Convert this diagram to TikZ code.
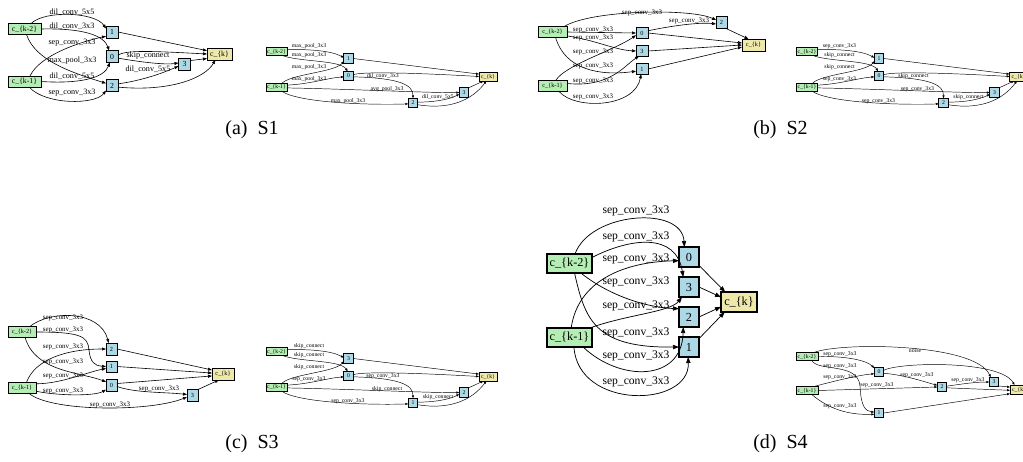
\documentclass[tikz,border=0pt]{standalone}
\usepackage{fontspec}
\setmainfont{Liberation Serif}
\usetikzlibrary{arrows.meta}
\definecolor{ingreen}{HTML}{B4EEB4}
\definecolor{hidblue}{HTML}{ADD8E6}
\definecolor{outyel}{HTML}{EEE8AA}
\tikzset{
  sz/.style 2 args={minimum width=#1*0.75pt, minimum height=#2*0.75pt},
  gnode/.style={draw=black, inner sep=0pt, outer sep=0pt},
  inp/.style={gnode, fill=ingreen},
  hid/.style={gnode, fill=hidblue},
  outp/.style={gnode, fill=outyel},
  fD/.style={line width=0.8pt, font=\fontsize{9.2}{10}\selectfont},
  fM/.style={line width=0.6pt, font=\fontsize{5.8}{6}\selectfont},
  fB/.style={line width=0.55pt, font=\fontsize{4.7}{5}\selectfont},
  fS/.style={line width=0.45pt, font=\fontsize{4.3}{5}\selectfont},
  eD/.style={line width=0.55pt, -{Triangle[length=4.5pt,width=3.2pt]}},
  eM/.style={line width=0.45pt, -{Triangle[length=3pt,width=2.2pt]}},
  eS/.style={line width=0.35pt, -{Triangle[length=2.2pt,width=1.6pt]}},
  lD/.style={inner sep=0pt, font=\fontsize{8.7}{9}\selectfont},
  lM/.style={inner sep=0pt, font=\fontsize{6.1}{7}\selectfont},
  lB/.style={inner sep=0pt, font=\fontsize{5.2}{6}\selectfont},
  lS/.style={inner sep=0pt, font=\fontsize{4.3}{5}\selectfont},
  capt/.style={inner sep=0pt, anchor=base, font=\fontsize{15}{18}\selectfont},
}
% small cell: #1 shift, #2 prefix, #3 top, #4 middle, #5 right, #6 bottom
\newcommand{\cellR}[6]{%
\begin{scope}[shift={#1}]
\node[inp,sz={21}{8},fS] (#2A) at (276.5,51.5) {c\_\{k-2\}};
\node[inp,sz={21}{8},fS] (#2B) at (276.5,87) {c\_\{k-1\}};
\node[hid,sz={9.5}{9.5},fS] (#2t) at (348.5,58.5) {#3};
\node[hid,sz={9.5}{9.5},fS] (#2m) at (348.5,76) {#4};
\node[hid,sz={9.5}{9.5},fS] (#2r) at (464,92.5) {#5};
\node[hid,sz={9.5}{9.5},fS] (#2b) at (413,103) {#6};
\node[outp,sz={18}{9},fS] (#2K) at (488,76.5) {c\_\{k\}};
\draw[eS] (#2A.10) .. controls (310,49) and (332,51) .. (#2t.170);
\draw[eS] (#2A.-35) .. controls (300,62) and (340,60) .. (#2m.100);
\draw[eS] (#2B.35) .. controls (292,74) and (335,72) .. (#2t.210);
\draw[eS] (#2B.10) .. controls (310,84) and (328,78) .. (#2m.190);
\draw[eS] (#2B.-5) .. controls (350,89) and (430,93) .. (#2r.west);
\draw[eS] (#2B.-40) .. controls (300,104) and (380,105) .. (#2b.190);
\draw[eS] (#2m.-10) .. controls (400,78) and (413,85) .. (#2b.north);
\draw[eS] (#2b.10) .. controls (440,102) and (452,98) .. (#2r.200);
\draw[eS] (#2t.east) -- (#2K.165);
\draw[eS] (#2m.15) .. controls (360,72) and (400,72) .. (#2K.west);
\draw[eS] (#2r.45) -- (#2K.225);
\draw[eS] (#2b.-20) .. controls (450,110) and (472,100) .. (#2K.250);
\node[lS] (#2l1) at (309,46) {\LA};
\node[lS] (#2l2) at (309,55) {\LB};
\node[lS] (#2l3) at (309,67) {\LC};
\node[lS] (#2l4) at (309,79) {\LD};
\node[lS] (#2l5) at (387,89) {\LE};
\node[lS] (#2l6) at (348,101) {\LF};
\node[lS] (#2l7) at (383,76) {\LG};
\node[lS] (#2l8) at (438,97) {\LH};
\end{scope}}
\begin{document}
\begin{tikzpicture}[x=0.75pt,y=-0.75pt]
\useasboundingbox (0,0) rectangle (1023,461);
\fill[white] (0,0) rectangle (1023,461);

% ---------------- Panel (a) left
\node[inp,sz={33}{11},fM] (aA) at (24.5,29) {c\_\{k-2\}};
\node[inp,sz={33}{11},fM] (aB) at (24.5,81.5) {c\_\{k-1\}};
\node[hid,sz={12}{12},fM] (a1) at (112,32) {1};
\node[hid,sz={12}{12},fM] (a0) at (112,56.5) {0};
\node[hid,sz={12}{12},fM] (a2) at (112,85.5) {2};
\node[hid,sz={12}{12},fM] (a3) at (184.5,64) {3};
\node[outp,sz={25}{12},fM] (aK) at (219.5,54) {c\_\{k\}};
\draw[eM] (aA.40) .. controls (45,10) and (95,12) .. (a1.150);
\draw[eM] (aA.east) .. controls (85,28) and (104,36) .. (a0.115);
\draw[eM] (aB.45) .. controls (40,55) and (80,42) .. (a1.215);
\draw[eM] (aA.-70) .. controls (35,60) and (70,72) .. (a2.160);
\draw[eM] (aB.east) .. controls (80,84) and (104,78) .. (a0.250);
\draw[eM] (aB.-50) .. controls (45,105) and (95,105) .. (a2.220);
\draw[eM] (a0.-15) .. controls (140,62) and (165,65) .. (a3.170);
\draw[eM] (a2.15) .. controls (145,80) and (165,72) .. (a3.200);
\draw[eM] (a1.east) -- (aK.165);
\draw[eM] (a0.15) .. controls (128,50) and (150,51) .. (aK.180);
\draw[eM] (a3.30) -- (aK.200);
\draw[eM] (a2.-15) .. controls (170,92) and (205,78) .. (aK.235);
\node[lM] (la1) at (72,12) {dil\_conv\_5x5};
\node[lM] (la2) at (72,26) {dil\_conv\_3x3};
\node[lM] (la3) at (72,43) {sep\_conv\_3x3};
\node[lM] (la4) at (72,61) {max\_pool\_3x3};
\node[lM] (la5) at (72,76) {dil\_conv\_5x5};
\node[lM] (la6) at (72,93) {sep\_conv\_3x3};
\node[lM] (la7) at (148,56) {skip\_connect};
\node[lM] (la8) at (148,69) {dil\_conv\_5x5};

% ---------------- Panel (a) right
\def\LA{max\_pool\_3x3}\def\LB{max\_pool\_3x3}\def\LC{max\_pool\_3x3}\def\LD{max\_pool\_3x3}
\def\LE{avg\_pool\_3x3}\def\LF{max\_pool\_3x3}\def\LG{dil\_conv\_3x3}\def\LH{dil\_conv\_5x5}
\cellR{(0,0)}{r}{1}{0}{3}{2}

% ---------------- Panel (b) left
\node[inp,sz={29}{10.5},fB] (bA) at (552.5,32) {c\_\{k-2\}};
\node[inp,sz={29}{11},fB] (bB) at (552.5,86) {c\_\{k-1\}};
\node[hid,sz={12}{10.5},fB] (b0) at (642,33) {0};
\node[hid,sz={12}{10.5},fB] (b3) at (642,51) {3};
\node[hid,sz={12}{10.5},fB] (b1) at (642,69) {1};
\node[hid,sz={11}{12},fB] (b2) at (721.5,22) {2};
\node[outp,sz={23}{12},fB] (bK) at (753.5,45) {c\_\{k\}};
\draw[eM] (bA.25) .. controls (590,10) and (690,8) .. (b2.160);
\draw[eM] (b0.20) .. controls (670,26) and (700,22) .. (b2.200);
\draw[eM] (bA.east) -- (b0.west);
\draw[eM] (bA.-15) .. controls (595,40) and (615,50) .. (b3.west);
\draw[eM] (bB.60) .. controls (565,65) and (615,50) .. (b0.200);
\draw[eM] (bA.-60) .. controls (565,70) and (600,76) .. (b1.200);
\draw[eM] (bB.10) .. controls (610,88) and (625,65) .. (b3.240);
\draw[eM] (bB.-40) .. controls (575,110) and (635,108) .. (b1.260);
\draw[eM] (b0.east) -- (bK.170);
\draw[eM] (b3.east) -- (bK.west);
\draw[eM] (b1.east) -- (bK.190);
\draw[eM] (b2.-60) -- (bK.130);
\node[lB] (lb1) at (642,13) {sep\_conv\_3x3};
\node[lB] (lb2) at (689,21) {sep\_conv\_3x3};
\node[lB] (lb3) at (593,29.5) {sep\_conv\_3x3};
\node[lB] (lb4) at (593,37.5) {sep\_conv\_3x3};
\node[lB] (lb5) at (593,52) {sep\_conv\_3x3};
\node[lB] (lb6) at (593,66) {sep\_conv\_3x3};
\node[lB] (lb7) at (593,81) {sep\_conv\_3x3};
\node[lB] (lb8) at (593,97) {sep\_conv\_3x3};

% ---------------- Panel (b) right
\def\LA{sep\_conv\_3x3}\def\LB{skip\_connect}\def\LC{skip\_connect}\def\LD{sep\_conv\_3x3}
\def\LE{sep\_conv\_3x3}\def\LF{sep\_conv\_3x3}\def\LG{skip\_connect}\def\LH{skip\_connect}
\cellR{(530.5,0)}{s}{1}{0}{3}{2}

% ---------------- Panel (c) left
\node[inp,sz={28}{10.5},fB] (cA) at (22,332) {c\_\{k-2\}};
\node[inp,sz={28}{11},fB] (cB) at (22,387.5) {c\_\{k-1\}};
\node[hid,sz={11}{12},fB] (c2) at (111.5,349) {2};
\node[hid,sz={11}{11},fB] (c1) at (111.5,366.5) {1};
\node[hid,sz={11}{12},fB] (c0) at (111.5,385) {0};
\node[hid,sz={11}{12},fB] (c3) at (192.5,395) {3};
\node[outp,sz={22}{12},fB] (cK) at (223,374) {c\_\{k\}};
\coordinate (cbend) at (89,350);
\draw[eM] (cA.35) .. controls (50,310) and (100,310) .. (c2.115);
\draw[eM] (cA.east) .. controls (80,332) and (88,336) .. (cbend) .. controls (90,362) and (95,366) .. (c1.west);
\draw[eM] (cB.50) .. controls (35,360) and (65,349) .. (c2.west);
\draw[eM] (cA.-60) .. controls (35,372) and (80,372) .. (c0.150);
\draw[eM] (cB.15) .. controls (60,384) and (88,372) .. (c1.200);
\draw[eM] (cB.-15) .. controls (60,396) and (95,396) .. (c0.220);
\draw[eM] (cB.-40) .. controls (50,412) and (150,412) .. (c3.200);
\draw[eM] (c0.-15) .. controls (135,393) and (165,392) .. (c3.175);
\draw[eM] (c2.east) -- (cK.160);
\draw[eM] (c1.east) -- (cK.175);
\draw[eM] (c0.15) -- (cK.190);
\draw[eM] (c3.45) -- (cK.235);
\node[lB] (lc1) at (63,318) {sep\_conv\_3x3};
\node[lB] (lc2) at (63,330) {sep\_conv\_3x3};
\node[lB] (lc3) at (63,347) {sep\_conv\_3x3};
\node[lB] (lc4) at (63,362) {sep\_conv\_3x3};
\node[lB] (lc5) at (63,376) {sep\_conv\_3x3};
\node[lB] (lc6) at (63,391) {sep\_conv\_3x3};
\node[lB] (lc7) at (110,405) {sep\_conv\_3x3};
\node[lB] (lc8) at (159,389) {sep\_conv\_3x3};

% ---------------- Panel (c) right
\def\LA{skip\_connect}\def\LB{skip\_connect}\def\LC{skip\_connect}\def\LD{sep\_conv\_3x3}
\def\LE{skip\_connect}\def\LF{sep\_conv\_3x3}\def\LG{sep\_conv\_3x3}\def\LH{skip\_connect}
\cellR{(0,300)}{u}{3}{0}{2}{1}

% ---------------- Panel (d) left (large)
\node[inp,sz={45}{19},fD] (dA) at (569.5,263.5) {c\_\{k-2\}};
\node[inp,sz={45}{19},fD] (dB) at (569.5,337.5) {c\_\{k-1\}};
\node[hid,sz={20}{20},fD] (d0) at (689,257) {0};
\node[hid,sz={20}{20},fD] (d3) at (689,287) {3};
\node[hid,sz={20}{20},fD] (d2) at (689,317) {2};
\node[hid,sz={20}{20},fD] (d1) at (689,347) {1};
\node[outp,sz={36}{20},fD] (dK) at (739,302) {c\_\{k\}};
\draw[eD] (dA.60) .. controls (590,212) and (682,205) .. (d0.115);
\draw[eD] (dA.15) .. controls (630,238) and (676,232) .. (d3.120);
\draw[eD] (dB.80) .. controls (578,280) and (625,262) .. (d0.200);
\draw[eD] (dA.-40) .. controls (615,300) and (655,308) .. (d2.140);
\draw[eD] (dB.25) .. controls (625,315) and (670,312) .. (d3.235);
\draw[eD] (dA.-62) .. controls (585,320) and (595,348) .. (d1.west);
\draw[eD] (dB.-35) .. controls (620,382) and (682,382) .. (d2.240);
\draw[eD] (dB.-65) .. controls (578,410) and (690,408) .. (d1.265);
\draw[eD] (d0.-40) -- (dK.144);
\draw[eD] (d3.east) -- (dK.165);
\draw[eD] (d2.east) -- (dK.195);
\draw[eD] (d1.40) -- (dK.215);
\node[lD] (ld1) at (636,210.7) {sep\_conv\_3x3};
\node[lD] (ld2) at (636,236.7) {sep\_conv\_3x3};
\node[lD] (ld3) at (636,259) {sep\_conv\_3x3};
\node[lD] (ld4) at (636,281.7) {sep\_conv\_3x3};
\node[lD] (ld5) at (636,305.7) {sep\_conv\_3x3};
\node[lD] (ld6) at (636,332.7) {sep\_conv\_3x3};
\node[lD] (ld7) at (636,355.7) {sep\_conv\_3x3};
\node[lD] (ld8) at (636,381.7) {sep\_conv\_3x3};

% ---------------- Panel (d) right
\node[inp,sz={22}{8},fS] (tA) at (807,356.5) {c\_\{k-2\}};
\node[inp,sz={22}{8},fS] (tB) at (807,390.5) {c\_\{k-1\}};
\node[hid,sz={9.5}{9.5},fS] (t0) at (879,372) {0};
\node[hid,sz={9.5}{9.5},fS] (t1) at (879,413) {1};
\node[hid,sz={9.5}{9.5},fS] (t2) at (942,387) {2};
\node[hid,sz={9.5}{9.5},fS] (t3) at (994,382) {3};
\node[outp,sz={18}{9},fS] (tK) at (1019,389.5) {c\_\{k\}};
\coordinate (tbend) at (860,386);
\draw[eS] (tA.30) .. controls (840,342) and (975,343) .. (t3.125);
\draw[eS] (tA.east) .. controls (845,356) and (866,360) .. (t0.140);
\draw[eS] (tA.-40) .. controls (818,372) and (858,362) .. (tbend) .. controls (861,408) and (866,411) .. (t1.170);
\draw[eS] (tB.30) .. controls (838,380) and (860,375) .. (t0.200);
\draw[eS] (tB.east) -- (t2.west);
\draw[eS] (tB.-40) .. controls (830,410) and (850,415) .. (t1.195);
\draw[eS] (t0.-15) .. controls (905,375) and (925,382) .. (t2.160);
\draw[eS] (t2.10) .. controls (962,384) and (975,382) .. (t3.west);
\draw[eS] (t0.20) .. controls (900,362) and (1000,360) .. (tK.135);
\draw[eS] (t3.-40) -- (tK.165);
\draw[eS] (t2.-10) -- (tK.185);
\draw[eS] (t1.east) -- (tK.205);
\node[lS] (lt1) at (915,351) {noise};
\node[lS] (lt2) at (840,354) {sep\_conv\_3x3};
\node[lS] (lt3) at (840,366) {sep\_conv\_3x3};
\node[lS] (lt4) at (840,377) {sep\_conv\_3x3};
\node[lS] (lt5) at (877,385) {sep\_conv\_3x3};
\node[lS] (lt6) at (840,406) {sep\_conv\_3x3};
\node[lS] (lt7) at (917,375) {sep\_conv\_3x3};
\node[lS] (lt8) at (968,380) {sep\_conv\_3x3};

% ---------------- Captions
\node[capt] (capA) at (252,134) {(a)\hspace{0.5em}S1};
\node[capt] (capB) at (780.5,134) {(b)\hspace{0.5em}S2};
\node[capt] (capC) at (252,448) {(c)\hspace{0.5em}S3};
\node[capt] (capD) at (780.5,448) {(d)\hspace{0.5em}S4};
\end{tikzpicture}
\end{document}
